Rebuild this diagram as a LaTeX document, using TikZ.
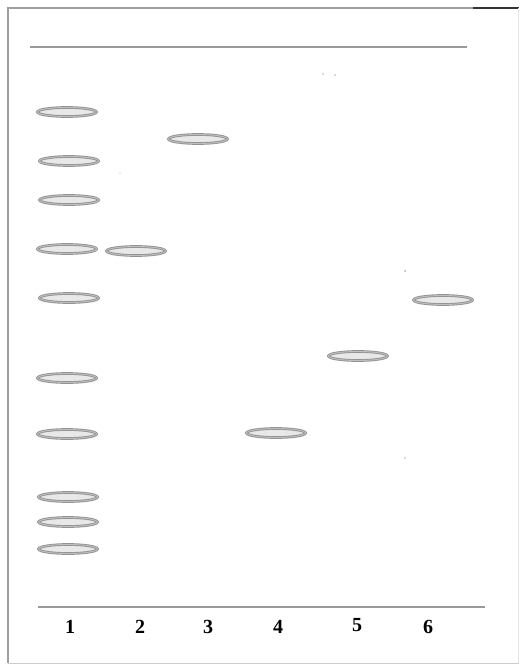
\documentclass[tikz,border=0pt]{standalone}
\usepackage{fontspec}
\setmainfont{Liberation Serif}
\usetikzlibrary{shapes.geometric}
\begin{document}
\begin{tikzpicture}[x=1pt,y=-1pt,
  band/.style={ellipse, draw=gray!85, line width=0.9pt, double=gray!50, double distance=0.9pt, fill=gray!18, minimum width=59pt, minimum height=9pt, inner sep=0pt},
  lanelabel/.style={font=\fontsize{20}{21}\selectfont\bfseries, text=black, inner sep=0pt},
  rule/.style={draw=gray!80, line width=2pt},
  frame/.style={draw=gray!75, line width=1.6pt},
  speck/.style={fill=gray!60, draw=none}]
\useasboundingbox (0,0) rectangle (519,666);
% frame
\draw[frame] (8,663) -- (8,8) -- (473,8);
\draw[draw=black!80, line width=1.8pt] (473,8) -- (519,8);
\draw[draw=gray!40, line width=1pt] (8,663) -- (519,663);
\draw[draw=gray!20, line width=0.6pt] (518,8) -- (518,663);
% origin and front lines
\coordinate (tl) at (30,47);
\coordinate (tr) at (467,47);
\coordinate (bl) at (38,607);
\coordinate (br) at (485,607);
\draw[rule] (tl) -- (tr);
\draw[rule] (bl) -- (br);
% lane 1 ladder
\node[band] (a1) at (67,112) {};
\node[band] (a2) at (69,161) {};
\node[band] (a3) at (69,200) {};
\node[band] (a4) at (67,249) {};
\node[band] (a5) at (69,298) {};
\node[band] (a6) at (67,378) {};
\node[band] (a7) at (67,434) {};
\node[band] (a8) at (68,497) {};
\node[band] (a9) at (68,522) {};
\node[band] (a10) at (68,549) {};
% other lanes
\node[band] (b2) at (136,251) {};
\node[band] (b3) at (198,139) {};
\node[band] (b4) at (276,433) {};
\node[band] (b5) at (358,356) {};
\node[band] (b6) at (443,300) {};
% specks
\fill[speck] (323,74) circle (0.8pt);
\fill[speck] (335,75) circle (0.8pt);
\fill[speck] (405,271) circle (1pt);
\fill[speck] (405,458) circle (0.8pt);
\fill[speck] (120,173) circle (0.6pt);
% labels
\node[lanelabel] (l1) at (70,627) {1};
\node[lanelabel] (l2) at (140,627) {2};
\node[lanelabel] (l3) at (208,627) {3};
\node[lanelabel] (l4) at (278,627) {4};
\node[lanelabel] (l5) at (357,625) {5};
\node[lanelabel] (l6) at (428,627) {6};
\end{tikzpicture}
\end{document}
